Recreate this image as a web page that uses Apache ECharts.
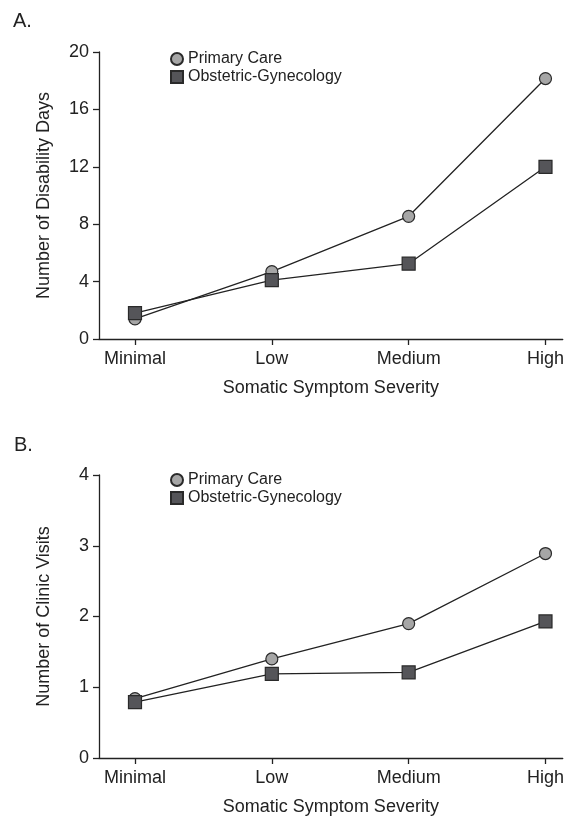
<!DOCTYPE html>
<html>
<head>
<meta charset="utf-8">
<script src="https://cdn.jsdelivr.net/npm/echarts@6/dist/echarts.min.js"></script>
<style>html,body{margin:0;padding:0;background:#fff;}#c{width:567px;height:817px;}</style>
</head>
<body>
<div id="c"></div>
<script>
var categories = ['Minimal', 'Low', 'Medium', 'High'];
var seriesNames = ['Primary Care', 'Obstetric-Gynecology'];
var disabilityPrimary = [1.4, 4.7, 8.55, 18.15];
var disabilityObGyn = [1.8, 4.1, 5.25, 12.0];
var visitsPrimary = [0.84, 1.4, 1.9, 2.89];
var visitsObGyn = [0.79, 1.19, 1.21, 1.93];
var yTicksA = [0, 4, 8, 12, 16, 20];
var yTicksB = [0, 1, 2, 3, 4];

var FONT = '"Liberation Sans", Arial, sans-serif';
var catIdx = categories.map(function (c, i) { return i; });
function pts(vals) { return vals.map(function (v, i) { return [i, v]; }); }

var circleStyle = { color: '#a6a6a6', borderColor: '#2a2a2a', borderWidth: 1.2 };
var squareStyle = { color: '#555559', borderColor: '#2a2a2a', borderWidth: 1.2 };
var lineStyle = { color: '#222', width: 1.3 };

function xAxis(gi) {
  return {
    type: 'value', gridIndex: gi, min: -0.263, max: 3.126,
    name: 'Somatic Symptom Severity', nameLocation: 'middle', nameGap: 40,
    nameTextStyle: { fontFamily: FONT, fontSize: 18, color: '#222' },
    axisLine: { show: true, onZero: false, lineStyle: { color: '#222', width: 1.3 } },
    axisTick: { show: true, customValues: catIdx, length: 6, lineStyle: { color: '#222', width: 1.3 } },
    axisLabel: { customValues: catIdx, margin: 11, fontFamily: FONT, fontSize: 18, color: '#222',
      formatter: function (v) { return categories[Math.round(v)]; } },
    splitLine: { show: false }
  };
}
function yAxis(gi, ticks, name) {
  return {
    type: 'value', gridIndex: gi, min: ticks[0], max: ticks[ticks.length - 1],
    interval: ticks[1] - ticks[0],
    name: name, nameLocation: 'middle', nameGap: 46,
    nameTextStyle: { fontFamily: FONT, fontSize: 18, color: '#222' },
    axisLine: { show: true, onZero: false, lineStyle: { color: '#222', width: 1.3 } },
    axisTick: { show: true, length: 6, lineStyle: { color: '#222', width: 1.3 } },
    axisLabel: { margin: 10, fontFamily: FONT, fontSize: 18, color: '#222' },
    splitLine: { show: false }
  };
}
function ser(name, data, gi, symbol, style) {
  return {
    name: name, type: 'line', xAxisIndex: gi, yAxisIndex: gi, data: pts(data),
    symbol: symbol, symbolSize: symbol === 'circle' ? 12 : 13, showSymbol: true,
    lineStyle: lineStyle, itemStyle: style, emphasis: { disabled: true }, animation: false
  };
}
function legend(top) {
  return {
    orient: 'vertical', left: 170, top: top, padding: 0, itemWidth: 12, itemHeight: 12, itemGap: 2,
    selectedMode: false,
    textStyle: { fontFamily: FONT, fontSize: 16, color: '#222' },
    data: [{ name: seriesNames[0], icon: 'circle' }, { name: seriesNames[1], icon: 'rect' }]
  };
}

var chart = echarts.init(document.getElementById('c'), null, { renderer: 'canvas' });
chart.setOption({
  backgroundColor: '#fff',
  animation: false,
  title: [
    { text: 'A.', left: 8, top: 6, textStyle: { fontFamily: FONT, fontSize: 20, fontWeight: 'normal', color: '#222' } },
    { text: 'B.', left: 9, top: 430, textStyle: { fontFamily: FONT, fontSize: 20, fontWeight: 'normal', color: '#222' } }
  ],
  legend: [legend(51), legend(472)],
  grid: [
    { left: 99, top: 52, width: 464, height: 287 },
    { left: 99, top: 475, width: 464, height: 287 }
  ],
  xAxis: [xAxis(0), xAxis(1)],
  yAxis: [yAxis(0, yTicksA, 'Number of Disability Days'), yAxis(1, yTicksB, 'Number of Clinic Visits')],
  series: [
    ser(seriesNames[0], disabilityPrimary, 0, 'circle', circleStyle),
    ser(seriesNames[1], disabilityObGyn, 0, 'rect', squareStyle),
    ser(seriesNames[0], visitsPrimary, 1, 'circle', circleStyle),
    ser(seriesNames[1], visitsObGyn, 1, 'rect', squareStyle)
  ]
});
</script>
</body>
</html>
